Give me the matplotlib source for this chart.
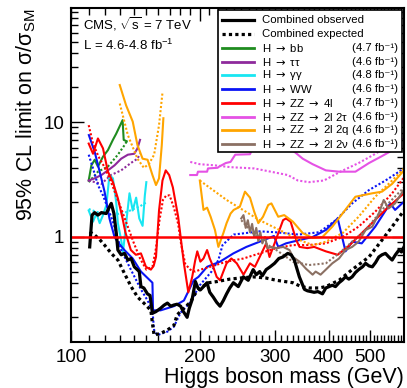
"""CMS 7 TeV: 95% CL upper limits on sigma/sigma_SM per Higgs decay channel."""
import numpy as np
import matplotlib
matplotlib.use("Agg")
import matplotlib.pyplot as plt
from matplotlib.patches import Rectangle
from matplotlib.ticker import FixedLocator, FixedFormatter, NullFormatter

plt.rcParams["font.family"] = ["Liberation Sans", "DejaVu Sans"]
plt.rcParams["mathtext.fontset"] = "custom"
plt.rcParams["mathtext.rm"] = "Liberation Sans"
plt.rcParams["mathtext.it"] = "Liberation Sans:italic"
plt.rcParams["mathtext.sf"] = "DejaVu Sans"

# ---- combined ----
comb_obs_mass = [110.6, 112, 113.6, 115.6, 117.8, 120.9, 123, 124.2, 126, 127.6,
                 128.7, 131, 133.4, 135.8, 138.2, 140.6, 144.4, 145.7, 148, 150.9,
                 153, 155, 157.9, 162, 165, 168, 171, 174, 177, 180.4,
                 183, 186.8, 189, 191.8, 195.3, 198, 200.6, 204, 207.9, 211,
                 215, 219, 223, 227, 231, 235, 239.6, 246, 252.8, 259.5,
                 266.5, 271, 276, 280, 285.8, 292, 299, 306, 312.7, 321,
                 327, 332.6, 341.7, 351.2, 357, 363.7, 370, 377.4, 387, 394,
                 401, 408, 415, 423, 430, 438, 446, 454, 462, 470,
                 480, 488, 497, 506, 515, 524, 533, 543, 553, 563,
                 573, 584, 592, 600]
comb_obs_lim = [0.82, 1.55, 1.63, 1.55, 1.63, 1.60, 1.83, 1.96, 1.60, 1.08,
                0.77, 0.70, 0.72, 0.63, 0.65, 0.55, 0.50, 0.37, 0.36, 0.32,
                0.31, 0.217, 0.224, 0.24, 0.255, 0.266, 0.25, 0.256, 0.26, 0.25,
                0.225, 0.20, 0.24, 0.283, 0.41, 0.36, 0.346, 0.37, 0.40, 0.33,
                0.30, 0.27, 0.25, 0.28, 0.32, 0.36, 0.40, 0.37, 0.45, 0.42,
                0.52, 0.47, 0.50, 0.46, 0.52, 0.55, 0.59, 0.65, 0.67, 0.72,
                0.70, 0.63, 0.45, 0.35, 0.34, 0.335, 0.33, 0.335, 0.32, 0.36,
                0.37, 0.38, 0.37, 0.40, 0.42, 0.45, 0.43, 0.45, 0.49, 0.52,
                0.55, 0.59, 0.56, 0.55, 0.60, 0.67, 0.70, 0.72, 0.67, 0.63,
                0.70, 0.77, 0.74, 0.82]
comb_exp_mass = [110.6, 113.6, 116.7, 119.8, 124.2, 128.7, 133.4, 138.2, 143.1, 148,
                 153.7, 155, 156.4, 162, 168, 174, 177, 183.6, 190, 195,
                 200.6, 210, 220, 235, 250, 266, 285, 302, 330, 345,
                 360, 380, 394, 423, 454, 497, 533, 563, 600]
comb_exp_lim = [1.11, 1.04, 0.95, 0.85, 0.72, 0.63, 0.48, 0.37, 0.30, 0.266,
                0.23, 0.177, 0.14, 0.145, 0.155, 0.17, 0.21, 0.24, 0.27, 0.32,
                0.36, 0.40, 0.41, 0.43, 0.44, 0.45, 0.44, 0.42, 0.40, 0.37,
                0.36, 0.36, 0.37, 0.42, 0.52, 0.67, 0.94, 1.23, 1.7]

# ---- H -> bb ----
bb_mass = [110, 111.6, 113.6, 115.6, 118.8, 122, 125.3, 127.5, 129.8, 132, 132.8, 135]
bb_obs = [3.1, 4.2, 4.7, 4.1, 5.0, 5.7, 7.0, 7.9, 9.1, 10.4, 7.0, 6.8]
bb_exp_mass = [110, 115.6, 122, 128.7, 133.4, 135]
bb_exp = [3.0, 3.7, 4.1, 5.2, 6.3, 6.8]

# ---- H -> tautau ----
tt_mass = [110, 113.6, 117.8, 122, 126.4, 131, 135.8, 140.6, 143, 145]
tt_obs = [3.1, 3.24, 3.46, 3.8, 4.2, 4.8, 5.2, 5.3, 5.9, 7.0]
tt_exp_mass = [110, 117.8, 124, 131, 138, 143, 145]
tt_exp = [3.1, 2.9, 3.46, 3.8, 4.4, 4.8, 5.3]

# ---- H -> gamma gamma ----
gg_mass = [110, 112.6, 114.7, 116.7, 118.8, 121, 123, 125.3, 127.5, 128.7,
           131, 132.3, 134.5, 137, 139.4, 142, 144.4, 147, 148.8, 150]
gg_obs = [1.7, 1.36, 1.6, 1.32, 1.55, 1.9, 3.46, 3.24, 2.03, 1.32,
          0.94, 0.74, 1.3, 2.4, 1.7, 2.2, 1.45, 1.25, 2.3, 3.0]
gg_exp_mass = [110, 115, 120, 125, 130, 135, 140, 145, 150]
gg_exp = [1.75, 1.65, 1.6, 1.55, 1.6, 1.65, 1.75, 1.85, 2.0]

# ---- H -> WW ----
ww_mass = [110.1, 113.6, 116.7, 119.8, 123, 126.4, 128.7, 133.3, 139.4, 145.7,
           150, 155, 155.5, 162, 174, 183.6, 193.5, 198.6, 208, 223,
           239.6, 257, 276, 298, 305, 318, 341.7, 367, 394, 420,
           438, 454, 478, 514, 557, 572, 600]
ww_obs = [7.7, 5.5, 3.7, 2.48, 1.45, 1.0, 0.9, 0.77, 0.65, 0.50,
          0.45, 0.40, 0.23, 0.23, 0.25, 0.28, 0.42, 0.45, 0.55, 0.61,
          0.72, 0.82, 0.91, 1.02, 0.82, 0.88, 0.94, 1.0, 1.15, 1.45,
          0.75, 0.91, 0.88, 1.23, 1.96, 1.72, 2.03]
ww_exp_mass = [110, 112.6, 115.6, 118.8, 122, 125.3, 131, 138, 145.7, 151,
               155, 156.4, 159, 168, 174, 180.4, 190, 200, 213, 221,
               226, 240, 276, 300, 340, 380, 416, 454, 497, 543, 600]
ww_exp = [5.2, 3.95, 2.83, 2.3, 1.77, 1.36, 0.77, 0.52, 0.35, 0.28,
          0.23, 0.155, 0.14, 0.15, 0.166, 0.22, 0.27, 0.38, 0.50, 0.63,
          0.85, 1.05, 1.12, 1.1, 1.05, 1.1, 1.4, 1.96, 2.56, 3.1, 3.95]

# ---- H -> ZZ -> 4l ----
zz4l_mass = [110, 112.6, 115.6, 118.8, 122, 125.3, 128.7, 132, 134, 138,
             141.8, 145.7, 149.7, 153.7, 156, 158, 160.6, 163.6, 166.5, 169.6,
             173, 178, 180.4, 183.6, 188, 192, 195, 197.3, 200.6, 204,
             208, 211, 215, 219, 223, 227, 231, 237, 244, 253,
             262, 269, 276, 286, 291, 299, 307, 313, 318, 326,
             336, 342, 357, 370, 394, 420, 448, 478, 514, 552, 600]
zz4l_obs = [6.5, 5.3, 7.2, 5.9, 3.7, 3.0, 2.17, 1.45, 1.1, 0.77,
            0.70, 0.72, 0.55, 0.52, 0.56, 0.67, 1.7, 3.1, 3.8, 3.46,
            2.7, 1.5, 1.0, 0.59, 0.33, 0.45, 0.62, 0.75, 0.61, 0.65,
            0.77, 0.65, 0.55, 0.45, 0.42, 0.50, 0.59, 0.65, 0.59, 0.47,
            0.59, 0.55, 0.67, 0.88, 0.67, 0.88, 1.15, 1.4, 1.45, 1.36,
            0.94, 0.82, 0.80, 0.82, 0.75, 0.70, 0.85, 1.08, 1.41, 1.83, 2.4]
zz4l_exp_mass = [110, 112.6, 116, 120, 125, 130, 135, 140, 145, 150,
                 155, 158, 161, 164, 167, 170, 174, 178, 181, 185,
                 190, 195, 200.6, 208, 231, 253, 276, 302, 330, 358,
                 394, 431, 470, 514, 563, 600]
zz4l_exp = [9.4, 6.5, 5.0, 4.0, 2.8, 1.9, 1.3, 0.9, 0.65, 0.52,
            0.55, 0.8, 1.4, 2.1, 2.3, 2.3, 1.8, 1.3, 0.85, 0.58,
            0.52, 0.50, 0.52, 0.54, 0.61, 0.65, 0.72, 0.80, 0.85, 0.85,
            0.88, 1.0, 1.23, 1.66, 2.4, 3.3]

# ---- H -> ZZ -> 2l 2tau ----
zz2t_mass = [190, 197, 198, 208, 209, 220, 222, 230, 236, 242,
             262, 268, 290, 320, 335, 348, 367, 394, 423, 462,
             497, 530, 560, 575, 590, 600]
zz2t_obs = [3.46, 3.46, 3.7, 3.7, 3.95, 4.0, 4.1, 4.4, 4.5, 5.2,
            5.25, 6.3, 6.6, 6.2, 5.4, 4.8, 4.3, 3.8, 3.7, 3.7,
            4.4, 5.0, 5.6, 7.5, 9.5, 10.5]
zz2t_exp_mass = [190, 200, 217, 236, 268, 293, 321, 339, 360, 390,
                 426, 470, 510, 563, 600]
zz2t_exp = [4.5, 4.3, 4.2, 4.05, 3.95, 3.7, 3.46, 3.1, 3.0, 3.1,
            3.7, 4.4, 5.2, 6.5, 7.2]

# ---- H -> ZZ -> 2l 2q (two mass ranges, gap marked with nan) ----
zz2q_mass = [130, 134.5, 139.4, 143, 147, 151, 155, 158, 160.6, 163, 164.4,
             180,
             200, 204, 208, 212, 217, 221, 227, 231, 236, 240,
             248, 255, 262, 268, 274, 281, 289, 294, 305, 315,
             330, 348, 367, 387, 408, 431, 462, 506, 533, 563, 600]
zz2q_obs = [21, 14, 10.1, 6.3, 4.8, 4.7, 3.46, 2.83, 3.24, 6.3, 10.8,
            np.nan,
            3.1, 1.72, 1.8, 1.5, 1.15, 0.82, 1.08, 1.32, 1.6, 1.72,
            1.83, 2.48, 2.2, 1.66, 1.32, 1.5, 1.9, 1.96, 1.5, 1.55,
            1.36, 1.08, 0.98, 1.0, 1.23, 1.6, 2.24, 2.4, 2.48, 2.9, 3.8]
zz2q_exp_mass = [130, 135.8, 143, 148, 152, 156.4, 160.6, 163.6,
                 180,
                 200, 231, 276, 307, 342, 367, 394, 431, 470, 514, 563, 600]
zz2q_exp = [14.5, 7.7, 4.8, 4.0, 4.3, 5.2, 9.4, 18,
            np.nan,
            3.1, 2.1, 1.4, 1.15, 0.94, 0.85, 0.91, 1.08, 1.5, 2.24, 3.1, 3.95]

# ---- H -> ZZ -> 2l 2nu ----
zz2n_mass = [250, 253, 256, 259, 262, 265, 268, 271, 274, 277,
             280, 284, 288, 294, 302, 313, 324, 330, 342, 354,
             367, 373, 383, 394, 408, 423, 438, 454, 470, 488,
             506, 524, 538, 552, 572, 600]
zz2n_obs = [1.45, 1.55, 1.2, 1.4, 1.1, 1.3, 1.0, 1.2, 0.92, 1.1,
            0.88, 1.0, 0.8, 0.82, 0.80, 0.82, 0.77, 0.67, 0.61, 0.53,
            0.47, 0.50, 0.47, 0.52, 0.59, 0.65, 0.77, 0.82, 0.91, 1.15,
            1.23, 1.6, 2.1, 1.77, 1.96, 2.6]
zz2n_exp_mass = [250, 262, 276, 302, 330, 360, 394, 423, 454, 488, 533, 600]
zz2n_exp = [1.4, 1.15, 0.94, 0.77, 0.61, 0.57, 0.59, 0.72, 0.91, 1.15, 1.72, 2.7]

ARROW = " $\\mathsf{\\rightarrow}$ "
channels = [
    ("H" + ARROW + "bb", "4.7", "#1f8c1f", bb_mass, bb_obs, bb_exp_mass, bb_exp),
    ("H" + ARROW + "ττ", "4.6", "#8e2a9c", tt_mass, tt_obs, tt_exp_mass, tt_exp),
    ("H" + ARROW + "γγ", "4.8", "#18e6f2", gg_mass, gg_obs, gg_exp_mass, gg_exp),
    ("H" + ARROW + "WW", "4.6", "#0a14f5", ww_mass, ww_obs, ww_exp_mass, ww_exp),
    ("H" + ARROW + "ZZ" + ARROW + "4l", "4.7", "#ff0000",
     zz4l_mass, zz4l_obs, zz4l_exp_mass, zz4l_exp),
    ("H" + ARROW + "ZZ" + ARROW + "2l 2τ", "4.6", "#e552e5",
     zz2t_mass, zz2t_obs, zz2t_exp_mass, zz2t_exp),
    ("H" + ARROW + "ZZ" + ARROW + "2l 2q", "4.6", "#ffa500",
     zz2q_mass, zz2q_obs, zz2q_exp_mass, zz2q_exp),
    ("H" + ARROW + "ZZ" + ARROW + "2l 2ν", "4.6", "#8b7063",
     zz2n_mass, zz2n_obs, zz2n_exp_mass, zz2n_exp),
]

fig = plt.figure(figsize=(4.07, 3.88), dpi=100)
ax = fig.add_axes([0.1744, 0.1186, 0.8182, 0.8604])

dots = (0, (1, 1))
for label, lumi, color, m, obs, me, exp in channels:
    ax.plot(me, exp, color=color, lw=1.5, ls=dots)
    ax.plot(m, obs, color=color, lw=1.5)

ax.plot(comb_exp_mass, comb_exp_lim, color="black", lw=2.3, ls=dots)
ax.plot(comb_obs_mass, comb_obs_lim, color="black", lw=2.3)
ax.axhline(1.0, color="#ff0000", lw=1.8)

ax.set_xscale("log")
ax.set_yscale("log")
ax.set_xlim(100, 600)
ax.set_ylim(0.122, 98)

ax.xaxis.set_major_locator(FixedLocator([100, 200, 300, 400, 500]))
ax.xaxis.set_major_formatter(FixedFormatter(["100", "200", "300", "400", "500"]))
ax.xaxis.set_minor_locator(FixedLocator(list(range(110, 600, 10))))
ax.xaxis.set_minor_formatter(NullFormatter())
ax.yaxis.set_major_locator(FixedLocator([1, 10]))
ax.yaxis.set_major_formatter(FixedFormatter(["1", "10"]))
ax.yaxis.set_minor_locator(FixedLocator(
    [0.2, 0.3, 0.4, 0.5, 0.6, 0.7, 0.8, 0.9] + list(range(2, 10)) + list(range(20, 100, 10))))
ax.yaxis.set_minor_formatter(NullFormatter())

ax.tick_params(which="both", direction="in", top=True, right=True, width=1.0,
               labelsize=13.5, pad=5)
ax.tick_params(which="major", length=9)
ax.tick_params(which="minor", length=5)
for s in ax.spines.values():
    s.set_linewidth(1.5)

ax.set_xlabel("Higgs boson mass (GeV)", fontsize=15.5, loc="right", labelpad=1)
ax.set_ylabel("95% CL limit on σ/σ$_{\\mathrm{SM}}$", fontsize=15.5, loc="top",
              labelpad=4)

ax.text(0.036, 0.951, "CMS, $\\sqrt{\\mathrm{s}}$ = 7 TeV", transform=ax.transAxes,
        fontsize=9.5, va="center", ha="left")
ax.text(0.036, 0.889, "L = 4.6-4.8 fb$^{\\mathrm{-1}}$", transform=ax.transAxes,
        fontsize=9.5, va="center", ha="left")

# legend box drawn by hand so the luminosity column can be right-aligned
ax.add_patch(Rectangle((0.441, 0.569), 0.553, 0.425, transform=ax.transAxes,
                       facecolor="white", edgecolor="black", lw=1.2, zorder=10))
rows = [("Combined observed", None, "black", "-", 2.3),
        ("Combined expected", None, "black", dots, 2.3)]
rows += [(c[0], c[1], c[2], "-", 2.0) for c in channels]
for i, (label, lumi, color, ls, lw) in enumerate(rows):
    y = 0.964 - i * 0.0413
    ax.plot([0.453, 0.550], [y, y], transform=ax.transAxes, color=color, ls=ls,
            lw=lw, zorder=11, clip_on=False)
    ax.text(0.574, y, label, transform=ax.transAxes, fontsize=8.2, va="center",
            ha="left", zorder=12)
    if lumi:
        ax.text(0.982, y, "(%s fb⁻¹)" % lumi, transform=ax.transAxes,
                fontsize=8.2, va="center", ha="right", zorder=12)

fig.savefig("out.png", dpi=100)
